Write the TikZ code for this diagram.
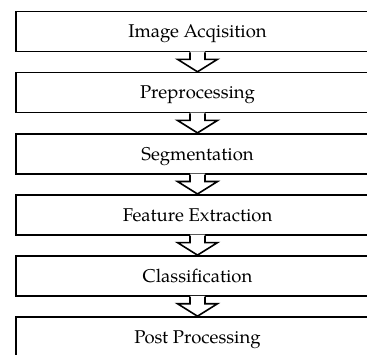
\documentclass[tikz,border=0pt]{standalone}
\usepackage{fontspec}
\setmainfont{TeX Gyre Pagella}
\usetikzlibrary{calc}
\begin{document}
\begin{tikzpicture}[x=1pt,y=1pt,
  stagebox/.style={draw=black, line width=1.6pt, minimum width=363pt, minimum height=40pt,
    inner sep=0pt, text height=12.6pt, text depth=0pt,
    font=\fontsize{18.5}{22}\selectfont, text=black},
  flowfill/.style={fill=white, draw=none},
  flowline/.style={draw=black, line width=1.6pt, line join=miter}]
\useasboundingbox (0,0) rectangle (367,-354);
\clip (0,0) rectangle (367,-354);
\node[stagebox] (s1) at (197.5,-31.5) {Image Acqisition};
\node[stagebox] (s2) at (197.5,-92.6) {Preprocessing};
\node[stagebox] (s3) at (197.5,-153.7) {Segmentation};
\node[stagebox] (s4) at (197.5,-214.8) {Feature Extraction};
\node[stagebox] (s5) at (197.5,-275.9) {Classification};
\node[stagebox] (s6) at (197.5,-337.0) {Post Processing};
\foreach \a/\b in {s1/s2,s2/s3,s3/s4,s4/s5,s5/s6}{
  \fill[flowfill] ($(\a.south)+(-7.5,0.9)$) -- ($(\a.south)+(-7.5,-7)$) -- ($(\a.south)+(-20,-7)$)
     -- (\b.north) -- ($(\a.south)+(20,-7)$) -- ($(\a.south)+(7.5,-7)$) -- ($(\a.south)+(7.5,0.9)$) -- cycle;
  \draw[flowline] ($(\a.south)+(-7.5,0)$) -- ($(\a.south)+(-7.5,-7)$) -- ($(\a.south)+(-20,-7)$)
     -- (\b.north) -- ($(\a.south)+(20,-7)$) -- ($(\a.south)+(7.5,-7)$) -- ($(\a.south)+(7.5,0)$);
}
\end{tikzpicture}
\end{document}
